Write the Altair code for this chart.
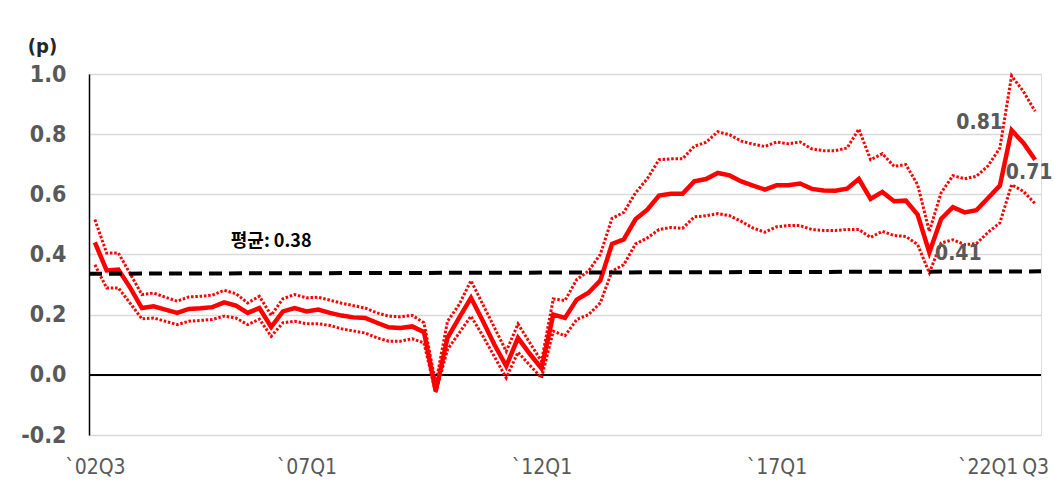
import altair as alt
import pandas as pd

# ---- data ----
x_tick_pos = [0, 18, 38, 58, 75.96, 80]
x_tick_labels = ["`02Q3", "`07Q1", "`12Q1", "`17Q1", "`22Q1", "Q3"]
y_ticks = [-0.2, 0.0, 0.2, 0.4, 0.6, 0.8, 1.0]

main = [0.44, 0.347, 0.35, 0.29, 0.222, 0.228, 0.217, 0.206, 0.219, 0.221,
        0.225, 0.241, 0.23, 0.206, 0.222, 0.159, 0.211, 0.222, 0.211, 0.217,
        0.206, 0.197, 0.191, 0.189, 0.173, 0.158, 0.156, 0.161, 0.142, -0.054,
        0.123, 0.19, 0.256, 0.18, 0.10, 0.029, 0.123, 0.07, 0.021, 0.2,
        0.189, 0.25, 0.273, 0.313, 0.435, 0.45, 0.517, 0.549, 0.596, 0.602,
        0.602, 0.643, 0.651, 0.671, 0.663, 0.643, 0.629, 0.616, 0.63, 0.63,
        0.636, 0.618, 0.613, 0.612, 0.619, 0.651, 0.585, 0.608, 0.577, 0.579,
        0.533, 0.407, 0.518, 0.557, 0.54, 0.547, 0.588, 0.629, 0.813, 0.771,
        0.715]
upper = [0.516, 0.405, 0.405, 0.336, 0.267, 0.272, 0.258, 0.245, 0.259, 0.261,
         0.265, 0.281, 0.27, 0.239, 0.261, 0.198, 0.253, 0.267, 0.256, 0.258,
         0.248, 0.238, 0.23, 0.222, 0.206, 0.195, 0.193, 0.198, 0.173, -0.03,
         0.178, 0.234, 0.313, 0.235, 0.157, 0.078, 0.169, 0.107, 0.045, 0.252,
         0.247, 0.317, 0.345, 0.40, 0.52, 0.54, 0.605, 0.652, 0.715, 0.718,
         0.718, 0.76, 0.773, 0.808, 0.798, 0.777, 0.767, 0.759, 0.774, 0.768,
         0.774, 0.751, 0.745, 0.745, 0.754, 0.817, 0.715, 0.735, 0.693, 0.699,
         0.632, 0.477, 0.605, 0.662, 0.652, 0.66, 0.695, 0.754, 0.994, 0.942,
         0.876]
lower = [0.366, 0.289, 0.289, 0.238, 0.186, 0.189, 0.178, 0.167, 0.178, 0.181,
         0.184, 0.195, 0.189, 0.167, 0.185, 0.128, 0.173, 0.178, 0.17, 0.17,
         0.164, 0.153, 0.146, 0.139, 0.123, 0.112, 0.112, 0.12, 0.106, -0.06,
         0.084, 0.139, 0.195, 0.13, 0.06, -0.01, 0.075, 0.032, -0.01, 0.145,
         0.13, 0.184, 0.2, 0.239, 0.345, 0.366, 0.435, 0.455, 0.483, 0.49,
         0.487, 0.525, 0.529, 0.536, 0.529, 0.51, 0.488, 0.474, 0.492, 0.496,
         0.496, 0.483, 0.48, 0.48, 0.483, 0.483, 0.457, 0.477, 0.463, 0.46,
         0.433, 0.339, 0.438, 0.449, 0.433, 0.436, 0.474, 0.505, 0.632, 0.61,
         0.569]
mean_x = [-0.5, 80.5]
mean_y = [0.336, 0.344]
mean_label = "평균: 0.38"
mean_label_pos = (15.0, 0.44)
ann_idx = [78, 80, 71]
ann_text = ["0.81", "0.71", "0.41"]

# ---- frames ----
n = len(main)
idx = list(range(n))
df = pd.DataFrame({"i": idx, "main": main, "upper": upper, "lower": lower})
df_mean = pd.DataFrame({"i": mean_x, "v": mean_y})
df_ml = pd.DataFrame({"i": [mean_label_pos[0]], "v": [mean_label_pos[1]], "t": [mean_label]})
df_ann = pd.DataFrame({"i": ann_idx, "v": [main[k] for k in ann_idx], "t": ann_text})

narrow = "Liberation Sans Narrow, DejaVu Sans Condensed, Liberation Sans, sans-serif"
grey = "#595959"

label_expr = ""
bounds = [1, 20, 40, 60, 78]
for b, lab in zip(bounds, x_tick_labels[:-1]):
    label_expr += f"datum.value < {b} ? '{lab}' : "
label_expr += f"'{x_tick_labels[-1]}'"

xscale = alt.Scale(domain=[-0.5, n - 0.5], nice=False, zero=False)
yscale = alt.Scale(domain=[-0.2, 1.0], nice=False)

xaxis = alt.Axis(values=x_tick_pos, labelExpr=label_expr, grid=False, ticks=False,
                 domain=False, labelFont=narrow, labelFontSize=21, labelColor=grey,
                 labelPadding=21, labelOverlap=False, labelFlush=False, labelBound=False,
                 title=None)
yaxis = alt.Axis(values=y_ticks,
                 labelExpr="datum.value < 0 ? '-' + format(-datum.value, '.1f') : format(datum.value, '.1f')",
                 grid=True, gridColor="#d9d9d9", gridWidth=1.5, ticks=False, domain=True,
                 domainColor="#000000", domainWidth=1.5, labelFont=narrow,
                 labelFontSize=23, labelFontWeight="bold", labelColor=grey,
                 labelPadding=23, title="(p)", titleAngle=0, titleX=-47, titleY=-28,
                 titleAlign="center", titleBaseline="middle", titleFont=narrow,
                 titleFontSize=20, titleFontWeight="bold", titleColor="#262626")

base = alt.Chart(df)

zero = alt.Chart(df).mark_rule(color="#000000", strokeWidth=1.5).encode(
    y=alt.datum(0, scale=yscale))

up = base.mark_line(color="#ff0000", strokeWidth=3, strokeDash=[2.5, 1.8]).encode(
    x=alt.X("i:Q", scale=xscale, axis=xaxis),
    y=alt.Y("upper:Q", scale=yscale, axis=yaxis))
lo = base.mark_line(color="#ff0000", strokeWidth=3, strokeDash=[2.5, 1.8]).encode(
    x="i:Q", y="lower:Q")
mn = base.mark_line(color="#ff0000", strokeWidth=4.5).encode(x="i:Q", y="main:Q")

meanline = alt.Chart(df_mean).mark_line(color="#000000", strokeWidth=4,
                                        strokeDash=[13, 7]).encode(x="i:Q", y="v:Q")
meantext = alt.Chart(df_ml).mark_text(font="Noto Sans CJK KR", fontSize=18,
                                      fontWeight="bold", color="#000000").encode(
    x="i:Q", y="v:Q", text="t:N")

ann_dx = [-32, -6, 29]
ann_dy = [-7, 13, 2]
anns = []
for k in range(len(ann_idx)):
    anns.append(alt.Chart(df_ann.iloc[[k]]).mark_text(
        font=narrow, fontSize=21, fontWeight="bold", color=grey,
        dx=ann_dx[k], dy=ann_dy[k]).encode(x="i:Q", y="v:Q", text="t:N"))

chart = alt.layer(up, zero, lo, mn, meanline, meantext, *anns).properties(
    width=952, height=361,
    autosize=alt.AutoSizeParams(type="none"),
    padding={"left": 81, "top": 66, "right": 12, "bottom": 54},
).configure_view(strokeWidth=0).configure(background="#ffffff")

chart.save("out.html", embed_options={"renderer": "svg", "actions": False})
